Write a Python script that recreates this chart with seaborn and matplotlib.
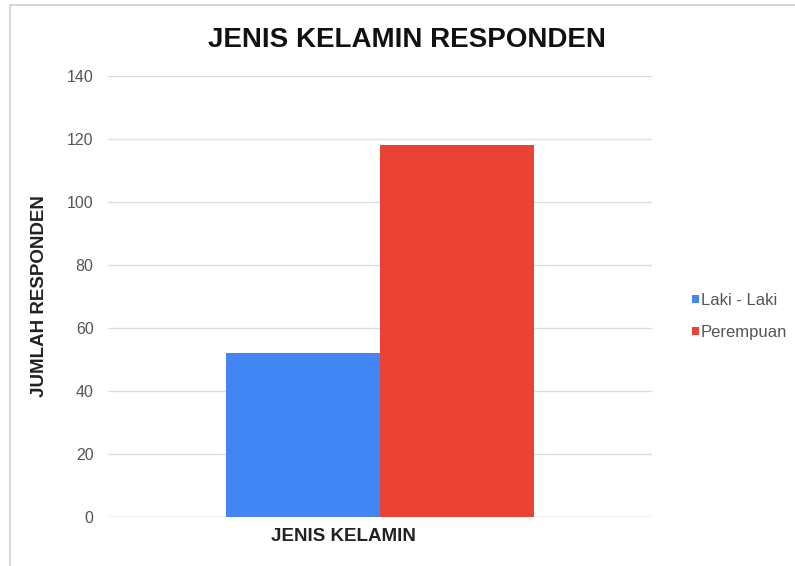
import matplotlib
matplotlib.use("Agg")
import matplotlib.pyplot as plt
from matplotlib.lines import Line2D
import seaborn as sns
import pandas as pd

categories = ["JENIS KELAMIN", "JENIS KELAMIN"]
genders = ["Laki - Laki", "Perempuan"]
values = [52, 118]
colors = ["#4285F4", "#EA4335"]
yticks = [0, 20, 40, 60, 80, 100, 120, 140]

sns.set_theme(style="white")
plt.rcParams["font.family"] = ["Liberation Sans", "DejaVu Sans"]

df = pd.DataFrame({"cat": categories, "gender": genders, "value": values})

fig = plt.figure(figsize=(7.95, 5.66), dpi=100)
ax = fig.add_axes([0.136, 0.0866, 0.684, 0.7791])

sns.barplot(data=df, x="cat", y="value", hue="gender", palette=colors,
            width=0.567, gap=0, saturation=1, linewidth=0, ax=ax, legend=True)

ax.set_ylim(0, 140)
ax.set_xlim(-0.5, 0.5)
ax.set_yticks(yticks)
ax.set_yticklabels([str(t) for t in yticks], fontsize=11.5, color="#555555")
ax.yaxis.grid(True, color="#dddddd", linewidth=1)
ax.set_axisbelow(True)
for s in ax.spines.values():
    s.set_visible(False)
ax.axhline(0, color="#cccccc", linewidth=1, zorder=0)
ax.tick_params(axis="y", length=0, pad=10.5)
ax.tick_params(axis="x", length=0)
ax.set_xticklabels([])
ax.set_xlabel("JENIS KELAMIN", fontsize=13.5, fontweight="bold", color="#222222")
ax.xaxis.set_label_coords((343 - 108) / 544, -0.025)
ax.set_ylabel("JUMLAH RESPONDEN", fontsize=13.5, fontweight="bold", color="#222222")
ax.yaxis.set_label_coords(-0.11, 0.5)

fig.suptitle("JENIS KELAMIN RESPONDEN", x=407 / 795, y=1 - 40 / 566, va="center",
             fontsize=20, fontweight="bold", color="#111111")

handles, labels = ax.get_legend_handles_labels()
ax.legend(handles, labels, loc="center left", bbox_to_anchor=(1.046, 0.455),
          frameon=False, fontsize=12, handlelength=0.4, handleheight=0.4,
          handletextpad=0.15, labelspacing=1.0, labelcolor="#555555")

fig.add_artist(Line2D([10 / 795, 10 / 795], [0, 1 - 5 / 566], color="#d0d0d0", linewidth=1.2,
                      transform=fig.transFigure))
fig.add_artist(Line2D([10 / 795, 1], [1 - 5 / 566, 1 - 5 / 566], color="#d0d0d0", linewidth=1.2,
                      transform=fig.transFigure))

fig.savefig("out.png", dpi=100)
